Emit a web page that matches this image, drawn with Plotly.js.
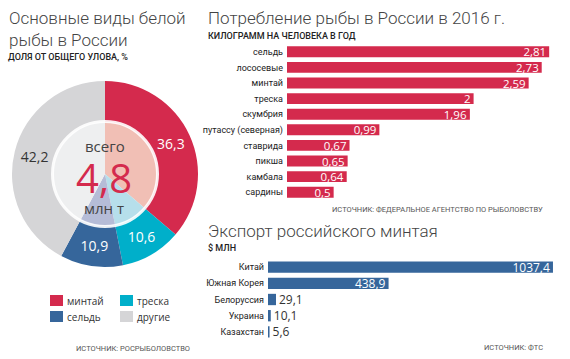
<!DOCTYPE html>
<html><head><meta charset="utf-8">
<script src="https://cdn.plot.ly/plotly-3.0.1.min.js"></script>
<style>html,body{margin:0;padding:0;background:#fff;}#chart{width:570px;height:359px;}</style>
</head><body><div id="chart"></div>
<script>
// ---- data ----
const pieLabels = ['минтай', 'треска', 'сельдь', 'другие'];
const pieValues = [36.3, 10.6, 10.9, 42.2];
const totalCatch = '4,8';

const consCategories = ['сельдь', 'лососевые', 'минтай', 'треска', 'скумбрия', 'путассу (северная)', 'ставрида', 'пикша', 'камбала', 'сардины'];
const consValues = [2.81, 2.73, 2.59, 2, 1.96, 0.99, 0.67, 0.65, 0.64, 0.5];

const expCategories = ['Китай', 'Южная Корея', 'Белоруссия', 'Украина', 'Казахстан'];
const expValues = [1037.4, 438.9, 29.1, 10.1, 5.6];

// ---- styles ----
const W = 570, H = 359;
const pieColors = ['#d42a4d', '#00afca', '#36669b', '#d5d5d7'];
const pieInner = ['#f1bfb5', '#b6dfeb', '#b5bcd7', '#eeeff0'];
const pieTextColors = ['#ffffff', '#ffffff', '#ffffff', '#333333'];
const RED = '#d42a4d', BLUE = '#36669b';
const TITLE_FONT = 'Roboto, sans-serif';
const NUM_FONT = 'Open Sans, sans-serif';
const LABEL_FONT = 'Roboto, sans-serif';
const px = x => x / W;
const py = y => 1 - y / H;
const fmt = v => String(v).replace('.', ',');

const traces = [
  {
    type: 'pie', labels: pieLabels, values: pieValues, sort: false, direction: 'clockwise', rotation: 0,
    hole: 52 / 93,
    domain: {x: [px(12), px(198)], y: [py(267), py(81)]},
    marker: {colors: pieColors, line: {width: 0}},
    text: pieValues.map(fmt), textinfo: 'text', textposition: 'inside', insidetextorientation: 'horizontal',
    textfont: {family: NUM_FONT, size: 14, color: pieTextColors},
    hoverinfo: 'label+value', showlegend: false
  },
  {
    type: 'pie', labels: pieLabels, values: pieValues, sort: false, direction: 'clockwise', rotation: 0,
    domain: {x: [px(53), px(157)], y: [py(226), py(122)]},
    marker: {colors: pieInner, line: {width: 0}},
    textinfo: 'none', hoverinfo: 'skip', showlegend: false
  },
  {
    type: 'bar', orientation: 'h', y: consCategories, x: consValues, xaxis: 'x', yaxis: 'y',
    marker: {color: RED, line: {width: 0}},
    text: consValues.map(fmt), textposition: 'inside', insidetextanchor: 'end', constraintext: 'none', textangle: 0,
    insidetextfont: {family: NUM_FONT, size: 11.5, color: '#ffffff'},
    hoverinfo: 'x+y', showlegend: false
  },
  {
    type: 'bar', orientation: 'h', y: expCategories, x: expValues, xaxis: 'x2', yaxis: 'y2',
    marker: {color: BLUE, line: {width: 0}},
    text: expValues.map(fmt), textposition: ['inside', 'inside', 'outside', 'outside', 'outside'],
    insidetextanchor: 'end', constraintext: 'none', textangle: 0,
    insidetextfont: {family: NUM_FONT, size: 12, color: '#ffffff'},
    outsidetextfont: {family: NUM_FONT, size: 12, color: '#333333'},
    cliponaxis: false,
    hoverinfo: 'x+y', showlegend: false
  }
];

const ann = [];
function addText(text, x, y, opts) {
  ann.push(Object.assign({text: text, x: px(x), y: py(y), xref: 'paper', yref: 'paper',
    showarrow: false, xanchor: 'left', yanchor: 'middle', borderpad: 0}, opts));
}
const titleFont = {family: TITLE_FONT, size: 17, color: '#444', weight: 300};
const subFont = {family: LABEL_FONT, size: 9, color: '#222', weight: 500};
const srcFont = {family: LABEL_FONT, size: 7.5, color: '#555'};

addText('Основные виды белой<br>рыбы в России', 8, 29.5, {font: titleFont, align: 'left'});
addText('ДОЛЯ ОТ ОБЩЕГО УЛОВА, %', 7, 57, {font: subFont});

addText('Потребление рыбы в России в 2016 г.', 207, 18, {font: titleFont});
addText('КИЛОГРАММ НА ЧЕЛОВЕКА В ГОД', 207, 36, {font: subFont});
addText('ИСТОЧНИК: ФЕДЕРАЛЬНОЕ АГЕНТСТВО ПО РЫБОЛОВСТВУ', 544, 209, {font: srcFont, xanchor: 'right'});

addText('Экспорт российского минтая', 207, 231, {font: titleFont});
addText('$ МЛН', 207, 248, {font: subFont});
addText('ИСТОЧНИК: ФТС', 544, 347, {font: srcFont, xanchor: 'right'});

addText('ИСТОЧНИК: РОСРЫБОЛОВСТВО', 191, 348, {font: srcFont, xanchor: 'right'});

// centre of donut
addText('всего', 105, 146, {font: {family: NUM_FONT, size: 15, color: '#444'}, xanchor: 'center'});
addText(totalCatch, 104, 177, {font: {family: NUM_FONT, size: 40, color: RED}, xanchor: 'center'});
addText('млн т', 104, 208, {font: {family: NUM_FONT, size: 15, color: '#444'}, xanchor: 'center'});

const shapes = [];
shapes.push({type: 'circle', xref: 'paper', yref: 'paper', x0: px(52.5), x1: px(157.5), y0: py(226.5), y1: py(121.5),
  line: {color: 'rgba(255,255,255,0.9)', width: 3}, fillcolor: 'rgba(0,0,0,0)'});
// legend: минтай, треска / сельдь, другие
pieLabels.forEach((lab, i) => {
  const col = i % 2, row = Math.floor(i / 2);
  const lx = 50 + col * 70, ly = 295 + row * 16;
  shapes.push({type: 'rect', xref: 'paper', yref: 'paper', x0: px(lx), x1: px(lx + 13), y0: py(ly + 11), y1: py(ly),
    fillcolor: pieColors[i], line: {width: 0}});
  addText(lab, lx + 16, ly + 5.5, {font: {family: NUM_FONT, size: 10, color: '#333'}});
});

const tickFont = {family: LABEL_FONT, size: 9, color: '#222'};
const layout = {
  width: W, height: H, margin: {l: 0, r: 0, t: 0, b: 0},
  paper_bgcolor: '#fff', plot_bgcolor: 'rgba(0,0,0,0)',
  showlegend: false, bargap: 0.3,
  xaxis: {domain: [px(287), px(560)], range: [0, 273 / 93.3], visible: false, fixedrange: true},
  yaxis: {domain: [py(200), py(44)], type: 'category', autorange: 'reversed', showgrid: false, zeroline: false,
    showline: false, ticks: '', ticklabelstandoff: 3, tickfont: tickFont, fixedrange: true},
  xaxis2: {domain: [px(268), px(560)], range: [0, 292 / 0.2747], visible: false, fixedrange: true, anchor: 'y2'},
  yaxis2: {domain: [py(340), py(259)], type: 'category', autorange: 'reversed', showgrid: false, zeroline: false,
    showline: false, ticks: '', ticklabelstandoff: 3, tickfont: tickFont, fixedrange: true, anchor: 'x2'},
  annotations: ann, shapes: shapes
};

Plotly.newPlot('chart', traces, layout, {displayModeBar: false, staticPlot: true});
</script></body></html>
